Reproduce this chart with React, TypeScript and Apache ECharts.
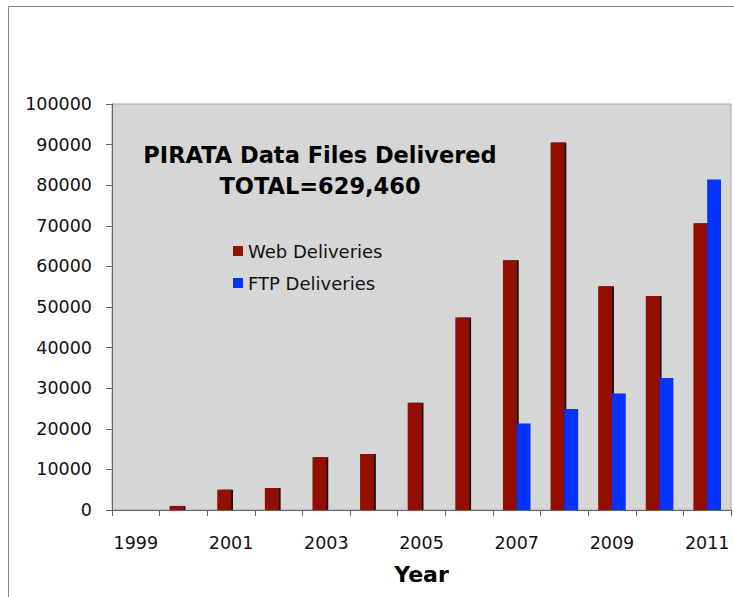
import React, { useEffect, useRef } from "react";
import * as echarts from "echarts";

const years = ["1999", "2000", "2001", "2002", "2003", "2004", "2005", "2006", "2007", "2008", "2009", "2010", "2011"];
const webDeliveries = [0, 1000, 5000, 5400, 13000, 13800, 26400, 47400, 61500, 90500, 55100, 52700, 70600];
const ftpDeliveries = [0, 0, 0, 0, 0, 0, 0, 0, 21300, 24900, 28700, 32500, 81400];
const titleLine1 = "PIRATA Data Files Delivered";
const titleLine2 = "TOTAL=629,460";
const seriesNames = ["Web Deliveries", "FTP Deliveries"];

const FONT = "'DejaVu Sans', Verdana, sans-serif";

export default function App() {
  const ref = useRef<HTMLDivElement>(null);
  useEffect(() => {
    if (!ref.current) return;
    const chart = echarts.init(ref.current, null, { renderer: "svg" });
    chart.setOption({
      animation: false,
      backgroundColor: "#ffffff",
      grid: {
        left: 112,
        right: 3,
        top: 104,
        bottom: 87,
        show: true,
        backgroundColor: "#d6d6d6",
        borderColor: "#a8a8a8",
        borderWidth: 1,
      },
      legend: {
        orient: "vertical",
        left: 228,
        top: 237,
        itemWidth: 10,
        itemHeight: 10,
        itemGap: 14,
        itemTextGap: 6,
        icon: "rect",
        data: seriesNames,
        textStyle: { fontFamily: FONT, fontSize: 18, color: "#111" },
      },
      xAxis: {
        type: "category",
        data: years,
        name: "Year",
        nameLocation: "middle",
        nameGap: 53,
        nameTextStyle: { fontFamily: FONT, fontSize: 22, fontWeight: "bold", color: "#000" },
        axisLine: { show: true, lineStyle: { color: "#666", width: 1 } },
        axisTick: { show: true, interval: 0, length: 6, lineStyle: { color: "#666" } },
        axisLabel: { interval: 1, margin: 24, fontFamily: FONT, fontSize: 17.5, color: "#111" },
        splitLine: { show: false },
      },
      yAxis: {
        type: "value",
        min: 0,
        max: 100000,
        interval: 10000,
        axisLine: { show: true, lineStyle: { color: "#666", width: 1 } },
        axisTick: { show: true, length: 6, lineStyle: { color: "#666" } },
        axisLabel: {
          margin: 20,
          fontFamily: FONT,
          fontSize: 17.5,
          color: "#111",
          formatter: (v: number) => String(v),
        },
        splitLine: { show: false },
      },
      series: [
        {
          name: seriesNames[0],
          type: "bar",
          data: webDeliveries,
          barGap: "0%",
          barCategoryGap: "42%",
          itemStyle: {
            color: "#931100",
            shadowColor: "rgba(0,0,0,0.9)",
            shadowOffsetX: 2,
            shadowOffsetY: 0,
            shadowBlur: 0,
          },
        },
        {
          name: seriesNames[1],
          type: "bar",
          data: ftpDeliveries,
          barGap: "0%",
          barCategoryGap: "42%",
          itemStyle: { color: "#0433ff" },
        },
      ],
      graphic: [
        {
          type: "rect",
          silent: true,
          shape: { x: 8.5, y: 6.5, width: 800, height: 700 },
          style: { fill: "none", stroke: "#888", lineWidth: 1 },
          z: 100,
        },
        {
          type: "text",
          x: 320,
          y: 155,
          style: {
            text: titleLine1,
            fontFamily: FONT,
            fontSize: 22.5,
            fontWeight: "bold",
            fill: "#000",
            align: "center",
            verticalAlign: "middle",
          },
          z: 100,
        },
        {
          type: "text",
          x: 320,
          y: 186,
          style: {
            text: titleLine2,
            fontFamily: FONT,
            fontSize: 22.5,
            fontWeight: "bold",
            fill: "#000",
            align: "center",
            verticalAlign: "middle",
          },
          z: 100,
        },
      ],
    });
    return () => chart.dispose();
  }, []);
  return (
    <div
      ref={ref}
      style={{ position: "fixed", left: 0, top: 0, width: 734, height: 597 }}
    />
  );
}
